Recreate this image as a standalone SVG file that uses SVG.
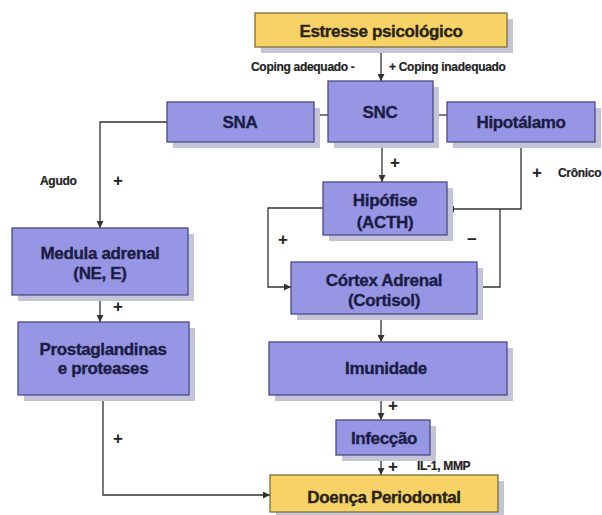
<svg xmlns="http://www.w3.org/2000/svg" width="602" height="515" viewBox="0 0 602 515">
<defs>
<marker id="arr" markerWidth="7" markerHeight="7" refX="7" refY="3.5" orient="auto" markerUnits="userSpaceOnUse">
<path d="M0,0 L7,3.5 L0,7 z" fill="#333"/>
</marker>
</defs>
<style>
.box{fill:#9696e4;stroke:#4a4a86;stroke-width:1.3}
.ybox{fill:#f7d266;stroke:#7d6e3a;stroke-width:1.3}
.sh{fill:#c4c4d8}
.t{font-family:"Liberation Sans",Arial,sans-serif;font-weight:bold;font-size:17px;fill:#1c1c44;stroke:#1c1c44;stroke-width:0.35;text-anchor:middle;letter-spacing:-0.35px}
.yt{fill:#2a2418;stroke:#2a2418}
.s{font-family:"Liberation Sans",Arial,sans-serif;font-weight:bold;font-size:12px;fill:#222;stroke:#222;stroke-width:0.2;letter-spacing:-0.3px}
.p{font-family:"Liberation Sans",Arial,sans-serif;font-weight:bold;font-size:17px;fill:#222;text-anchor:middle}
.c{fill:none;stroke:#333;stroke-width:1.3}
</style>
<rect width="602" height="515" fill="#ffffff"/>
<g id="connectors">
<path class="c" d="M381 47 V81" marker-end="url(#arr)"/>
<path class="c" d="M314 115 H328"/>
<path class="c" d="M433 115 H447"/>
<path class="c" d="M167 122 H100 V228" marker-end="url(#arr)"/>
<path class="c" d="M382 142 V182" marker-end="url(#arr)"/>
<path class="c" d="M521 142 V209 H447" marker-end="url(#arr)"/>
<path class="c" d="M477 287 H500 V209"/>
<path class="c" d="M323 208 H268 V287 H291" marker-end="url(#arr)"/>
<path class="c" d="M381 314 V342" marker-end="url(#arr)"/>
<path class="c" d="M100 295 V322" marker-end="url(#arr)"/>
<path class="c" d="M381 395 V420" marker-end="url(#arr)"/>
<path class="c" d="M381 455 V475" marker-end="url(#arr)"/>
<path class="c" d="M103 395 V495 H270" marker-end="url(#arr)"/>
</g>
<g id="labels">
<text class="s" x="251" y="71">Coping adequado -</text>
<text class="s" x="389" y="71">+ Coping inadequado</text>
<text class="s" x="40" y="185">Agudo</text>
<text class="p" x="118" y="186">+</text>
<text class="p" x="395" y="168">+</text>
<text class="p" x="537" y="178">+</text>
<text class="s" x="558" y="177">Crônico</text>
<text class="p" x="283" y="245">+</text>
<text class="p" x="472" y="245">−</text>
<text class="p" x="118" y="312">+</text>
<text class="p" x="118" y="444">+</text>
<text class="p" x="393" y="411">+</text>
<text class="p" x="393" y="472">+</text>
<text class="s" x="417" y="470">IL-1, MMP</text>
</g>
<g id="estresse">
<rect class="sh" x="261" y="19" width="252" height="34"/>
<rect class="ybox" x="255" y="13" width="252" height="34"/>
<text class="t yt" x="381" y="37">Estresse psicológico</text>
</g>
<g id="snc">
<rect class="sh" x="334" y="87" width="105" height="61"/>
<rect class="box" x="328" y="81" width="105" height="61"/>
<text class="t" x="380" y="118">SNC</text>
</g>
<g id="sna">
<rect class="sh" x="173" y="108" width="147" height="40"/>
<rect class="box" x="167" y="102" width="147" height="40"/>
<text class="t" x="240" y="128">SNA</text>
</g>
<g id="hipotalamo">
<rect class="sh" x="453" y="108" width="148" height="40"/>
<rect class="box" x="447" y="102" width="148" height="40"/>
<text class="t" x="521" y="128">Hipotálamo</text>
</g>
<g id="hipofise">
<rect class="sh" x="329" y="188" width="124" height="53"/>
<rect class="box" x="323" y="182" width="124" height="53"/>
<text class="t" x="385" y="206">Hipófise</text>
<text class="t" x="385" y="228">(ACTH)</text>
</g>
<g id="cortex">
<rect class="sh" x="297" y="268" width="186" height="52"/>
<rect class="box" x="291" y="262" width="186" height="52"/>
<text class="t" x="384" y="286">Córtex Adrenal</text>
<text class="t" x="384" y="306">(Cortisol)</text>
</g>
<g id="medula">
<rect class="sh" x="18" y="234" width="176" height="67"/>
<rect class="box" x="12" y="228" width="176" height="67"/>
<text class="t" x="100" y="259">Medula adrenal</text>
<text class="t" x="100" y="279">(NE, E)</text>
</g>
<g id="prostaglandinas">
<rect class="sh" x="24" y="328" width="171" height="73"/>
<rect class="box" x="18" y="322" width="171" height="73"/>
<text class="t" x="103" y="355">Prostaglandinas</text>
<text class="t" x="103" y="374">e proteases</text>
</g>
<g id="imunidade">
<rect class="sh" x="275" y="348" width="238" height="53"/>
<rect class="box" x="269" y="342" width="238" height="53"/>
<text class="t" x="386" y="374">Imunidade</text>
</g>
<g id="infeccao">
<rect class="sh" x="342" y="426" width="94" height="35"/>
<rect class="box" x="336" y="420" width="94" height="35"/>
<text class="t" x="384" y="444">Infecção</text>
</g>
<g id="doenca">
<rect class="sh" x="276" y="481" width="228" height="40"/>
<rect class="ybox" x="270" y="475" width="228" height="37"/>
<text class="t yt" x="384" y="503">Doença Periodontal</text>
</g>
</svg>
